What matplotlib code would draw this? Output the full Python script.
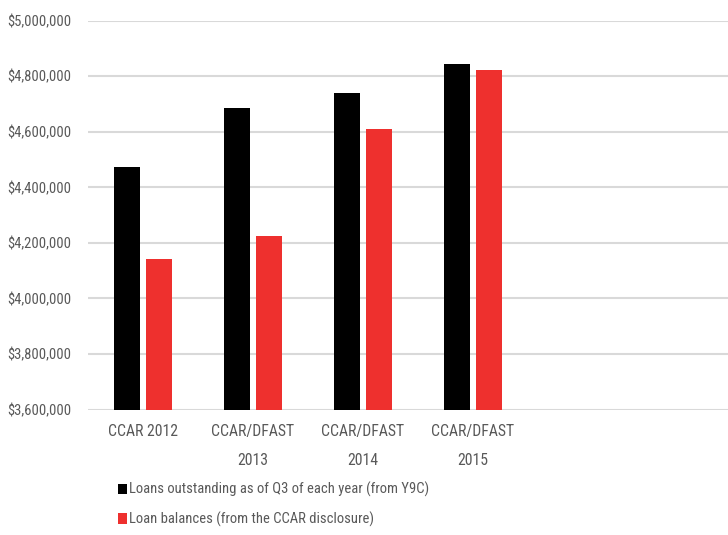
import matplotlib
matplotlib.use("Agg")
from matplotlib import pyplot as plt
from matplotlib import font_manager
from matplotlib.patches import Patch
from matplotlib.ticker import FuncFormatter
import numpy as np

# data
categories = ["CCAR 2012", "CCAR/DFAST\n2013", "CCAR/DFAST\n2014", "CCAR/DFAST\n2015"]
loans_y9c = [4474000, 4686000, 4738000, 4845000]
loans_ccar = [4141000, 4223000, 4611000, 4821000]
series_labels = ["Loans outstanding as of Q3 of each year (from Y9C)",
                 "Loan balances (from the CCAR disclosure)"]
yticks = [3600000, 3800000, 4000000, 4200000, 4400000, 4600000, 4800000, 5000000]

# the original uses a condensed face; take one if there is one installed
installed = {f.name for f in font_manager.fontManager.ttflist}
scale = 0.885
family = ['Liberation Sans', 'DejaVu Sans']
for cand in ['Roboto Condensed', 'Liberation Sans Narrow', 'Arial Narrow']:
    if cand in installed:
        family = [cand, 'DejaVu Sans']
        scale = 1.0
        break
plt.rcParams['font.family'] = family
ysize = 10.5 * scale
xsize = 11.3 * scale
lsize = 10.5 * scale

grey = '#595959'
black = '#000000'
red = '#ee302e'

fig = plt.figure(figsize=(7.28, 5.35), dpi=100)
ax = fig.add_axes([88 / 728, 125.5 / 535, 640 / 728, 389 / 535])

x = np.arange(len(categories))
w = 0.236
ax.bar(x - 0.143, loans_y9c, width=w, color=black, zorder=3)
ax.bar(x + 0.143, loans_ccar, width=w, color=red, zorder=3)

ax.set_ylim(3600000, 5000000)
ax.set_xlim(-0.5, -0.5 + 640 / 110)
ax.set_yticks(yticks)
ax.yaxis.set_major_formatter(FuncFormatter(lambda v, p: "${:,.0f}".format(v)))
ax.set_xticks(x)
ax.set_xticklabels(categories, linespacing=2.12)

ax.grid(axis='y', color='#d9d9d9', linewidth=1.5, zorder=0)
for s in ax.spines.values():
    s.set_visible(False)
ax.tick_params(axis='both', length=0, colors=grey)
ax.tick_params(axis='y', pad=12, labelsize=ysize)
ax.tick_params(axis='x', pad=10.5, labelsize=xsize)

handles = [Patch(facecolor=black), Patch(facecolor=red)]
fig.legend(handles, series_labels, loc='upper left', bbox_to_anchor=(105 / 728, 1 - 469 / 535),
           frameon=False, fontsize=lsize, labelcolor=grey, handlelength=0.58, handleheight=0.72,
           handletextpad=0.2, labelspacing=0.98)

fig.savefig("out.png", dpi=100)
